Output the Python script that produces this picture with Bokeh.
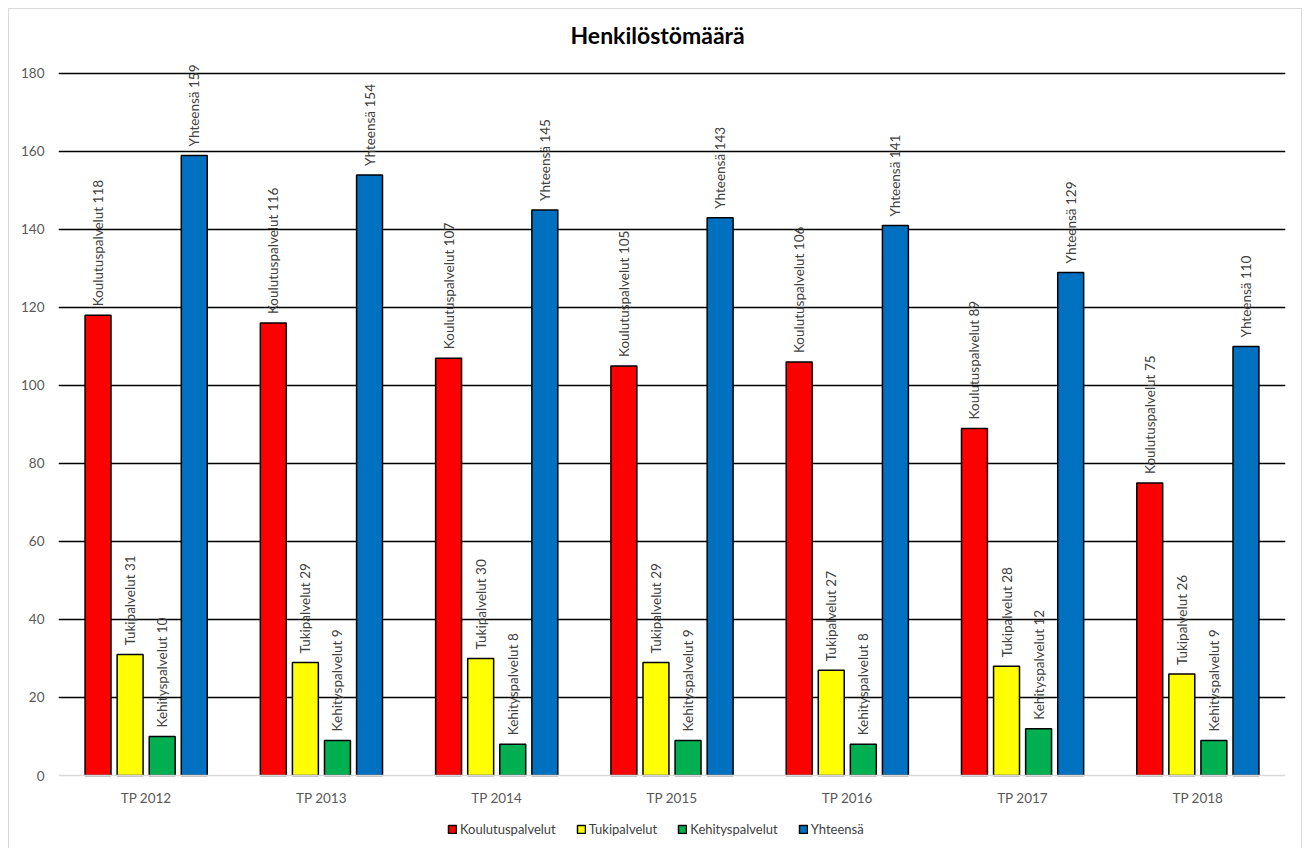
import math
from bokeh.plotting import figure
from bokeh.models import (ColumnDataSource, FactorRange, LabelSet, Legend, LegendItem,
                          FixedTicker, Range1d, Span)
from bokeh.core.properties import value
from bokeh.transform import dodge
from bokeh.embed import file_html
from bokeh.resources import INLINE

categories = ["TP 2012", "TP 2013", "TP 2014", "TP 2015", "TP 2016", "TP 2017", "TP 2018"]
koulutuspalvelut = [118, 116, 107, 105, 106, 89, 75]
tukipalvelut = [31, 29, 30, 29, 27, 28, 26]
kehityspalvelut = [10, 9, 8, 9, 8, 12, 9]
yhteensa = [159, 154, 145, 143, 141, 129, 110]
series_names = ["Koulutuspalvelut", "Tukipalvelut", "Kehityspalvelut", "Yhteensä"]
y_ticks = [0, 20, 40, 60, 80, 100, 120, 140, 160, 180]

colors = ["#FF0000", "#FFFF00", "#00B050", "#0070C0"]
keys = ["k", "t", "e", "y"]
offsets = [-0.2745, -0.0915, 0.0915, 0.2745]

data = dict(cat=categories, k=koulutuspalvelut, t=tukipalvelut, e=kehityspalvelut, y=yhteensa,
            zero=[0] * len(categories))
for key, name in zip(keys, series_names):
    data[key + "_lbl"] = [f"{name} {v}" for v in data[key]]
src = ColumnDataSource(data)

FONT = "Lato"

p = figure(width=1294, height=841, x_range=FactorRange(*categories, range_padding=0),
           y_range=Range1d(-19.23, 186.15), output_backend="svg", toolbar_location=None,
           x_axis_location=None,
           min_border_left=49, min_border_right=18, min_border_top=40, min_border_bottom=0,
           title="Henkilöstömäärä",
           styles={"margin": "8px 0px 0px 8px", "border": "1px solid #d9d9d9"})
p.outline_line_color = None
p.title.align = "left"
p.title.offset = 512
p.title.text_font = FONT
p.title.text_font_style = "bold"
p.title.text_font_size = "23px"
p.title.text_color = "#000000"
p.title.standoff = 2

p.xgrid.grid_line_color = None
p.ygrid.ticker = FixedTicker(ticks=y_ticks[1:])
p.ygrid.grid_line_color = "#000000"
p.ygrid.grid_line_width = 1.3

p.add_layout(Span(location=0, dimension="width", line_color="#d9d9d9", line_width=1.5))

renderers = []
for key, col, off in zip(keys, colors, offsets):
    r = p.vbar(x=dodge("cat", off, range=p.x_range), top=key, width=0.148, source=src,
               fill_color=col, line_color="#000000", line_width=1.5)
    renderers.append(r)
    lbl = LabelSet(x=dodge("cat", off, range=p.x_range), y=key, text=key + "_lbl", source=src,
                   angle=math.pi / 2, text_align="left", text_baseline="middle",
                   y_offset=9, text_font=value(FONT), text_font_size=value("13.5px"),
                   text_color="#404040")
    p.add_layout(lbl)

# category labels under the zero line
cat_labels = LabelSet(x="cat", y="zero", text="cat", source=src, y_offset=-22,
                      text_align="center", text_baseline="middle",
                      text_font=value(FONT), text_font_size=value("13.5px"), text_color="#595959")
p.add_layout(cat_labels)

p.yaxis.ticker = FixedTicker(ticks=y_ticks)
p.yaxis.axis_line_color = None
p.yaxis.major_tick_line_color = None
p.yaxis.minor_tick_line_color = None
p.yaxis.major_tick_out = 0
p.yaxis.major_tick_in = 0
p.yaxis.major_label_standoff = 14
p.yaxis.major_label_text_font = FONT
p.yaxis.major_label_text_font_size = "13.5px"
p.yaxis.major_label_text_color = "#595959"

legend = Legend(items=[LegendItem(label=n, renderers=[r]) for n, r in zip(series_names, renderers)],
                orientation="horizontal", location=(389, 13), glyph_width=10, glyph_height=10,
                label_standoff=3, spacing=20, padding=0, margin=0,
                border_line_color=None, background_fill_alpha=0,
                label_text_font=FONT, label_text_font_size="13px", label_text_color="#404040")
p.add_layout(legend, "center")

open("out.html", "w").write(file_html(p, INLINE))
